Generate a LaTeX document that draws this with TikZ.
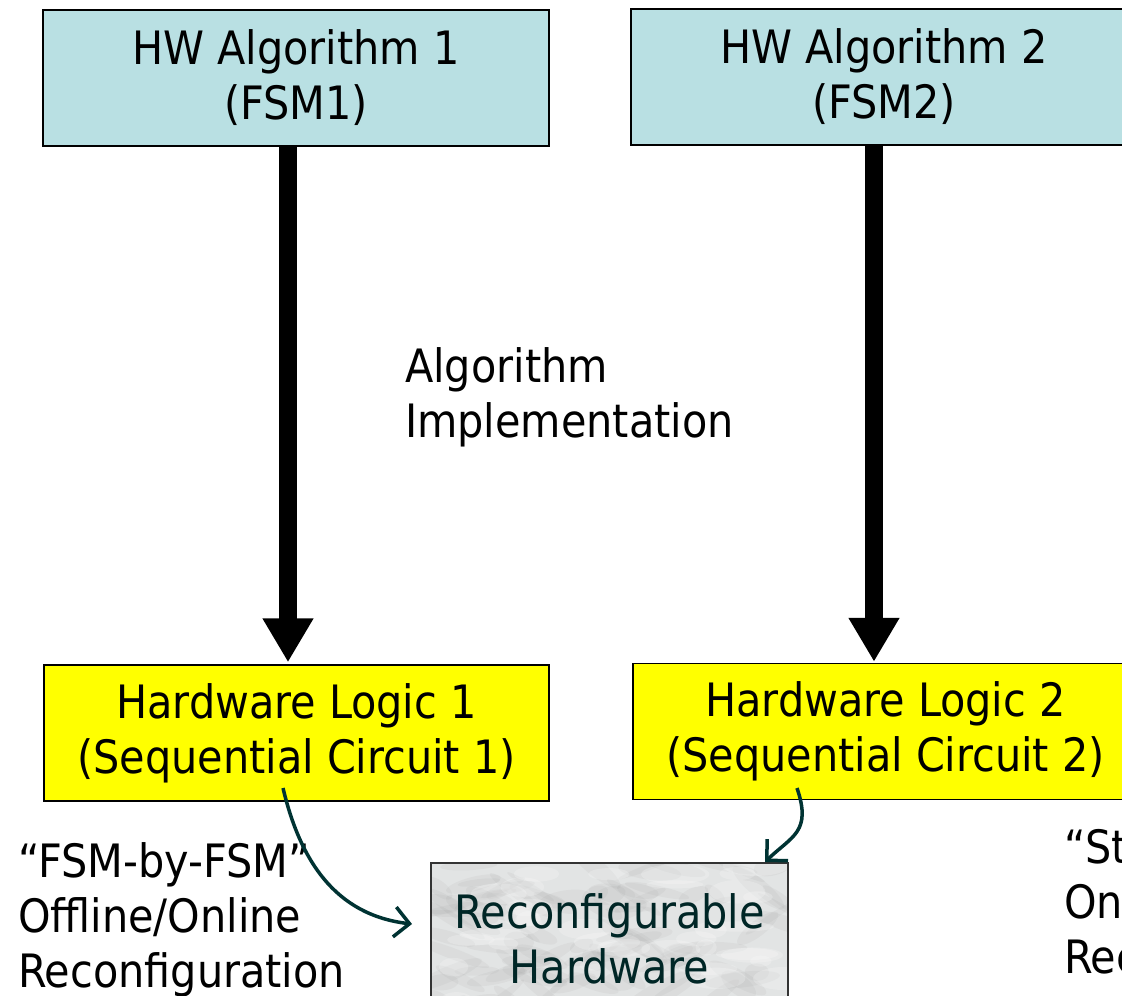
\documentclass[tikz,border=0pt]{standalone}
\usepackage{fontspec}
\setmainfont{DejaVu Sans Condensed}
\usetikzlibrary{arrows.meta}
\definecolor{algfill}{RGB}{185,224,227}
\definecolor{hwyellow}{RGB}{255,255,0}
\definecolor{darkteal}{RGB}{0,51,51}
\definecolor{marble}{RGB}{226,228,228}
\definecolor{rhtext}{RGB}{0,38,38}
\begin{document}
\begin{tikzpicture}[x=1pt,y=-1pt,
  big/.style={font=\fontsize{46}{55}\selectfont},
  box/.style={draw=black, line width=1.5pt, minimum width=#1, inner sep=0pt, align=center, big},
  algbox/.style={box=506pt, fill=algfill, minimum height=136pt},
  hwbox/.style={box=505pt, fill=hwyellow, minimum height=136pt},
  label/.style={inner sep=0pt, align=left, anchor=base west, big},
  bigarrow/.style={line width=18pt, -{Triangle[width=48pt,length=44pt]}},
  curarrow/.style={draw=darkteal, line width=3.5pt, -{Straight Barb[length=15pt,width=30pt]}}
]
\useasboundingbox (0,0) rectangle (1122,996);
\clip (0,0) rectangle (1122,996);

% marble texture behind the reconfigurable-hardware box
\begin{scope}
  \clip (431,863) rectangle (788,1015);
  \fill[marble] (431,863) rectangle (788,1015);
  \pgfmathsetseed{11}
  \foreach \i in {1,...,110}{
    \pgfmathsetmacro{\px}{431+rnd*357}
    \pgfmathsetmacro{\py}{863+rnd*155}
    \pgfmathsetmacro{\rot}{-40+rnd*80}
    \pgfmathsetmacro{\rx}{12+rnd*30}
    \pgfmathsetmacro{\ry}{3+rnd*7}
    \fill[gray, opacity=0.07, rotate around={\rot:(\px,\py)}] (\px,\py) ellipse ({\rx} and {\ry});
  }
  \foreach \i in {1,...,40}{
    \pgfmathsetmacro{\px}{431+rnd*357}
    \pgfmathsetmacro{\py}{863+rnd*155}
    \pgfmathsetmacro{\rx}{10+rnd*25}
    \pgfmathsetmacro{\ry}{4+rnd*8}
    \fill[white, opacity=0.22] (\px,\py) ellipse ({\rx} and {\ry});
  }
\end{scope}

\node[algbox] (a1) at (296,78) {HW Algorithm 1\\(FSM1)};
\node[algbox] (a2) at (884,77) {HW Algorithm 2\\(FSM2)};
\node[hwbox] (h1) at (296.5,733) {Hardware Logic 1\\(Sequential Circuit 1)};
\node[hwbox] (h2) at (885.5,731.5) {Hardware Logic 2\\(Sequential Circuit 2)};
\node[draw=black!80, line width=1.5pt, minimum width=357pt, minimum height=152pt,
      inner sep=0pt, align=center, big, text=rhtext] (rh) at (609.5,939)
      {Reconfigurable\\Hardware};

\node[label] (impl) at (405,437) {Algorithm\\Implementation};
\node[label] (left) at (18,987) {“FSM-by-FSM”\\Offline/Online\\Reconfiguration};
\node[label] (right) at (1064,973) {“St\\On\\Rec};

\draw[bigarrow] ([xshift=-8pt]a1.south) -- ([xshift=-8pt,yshift=2pt]a1.south |- h1.north);
\draw[bigarrow] ([xshift=-10pt]a2.south) -- ([xshift=-10pt,yshift=1pt]a2.south |- h2.north);

\coordinate (s1) at (283,788);
\coordinate (e1) at (412,924);
\coordinate (s2) at (797,788);
\coordinate (e2) at (765,862);
\draw[curarrow] (s1) .. controls (300,860) and (335,915) .. (e1);
\draw[curarrow] (s2) .. controls (812,832) and (792,836) .. (e2);
\end{tikzpicture}
\end{document}
